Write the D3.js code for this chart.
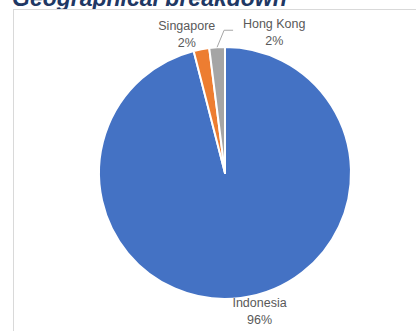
<!DOCTYPE html>
<html>
<head>
<meta charset="utf-8">
<script src="https://cdn.jsdelivr.net/npm/d3@7"></script>
<style>
  html, body { margin: 0; padding: 0; background: #fff; }
  svg { display: block; }
</style>
</head>
<body>
<svg id="chart" width="416" height="331"></svg>
<script>
// Share of holdings by country
const countries = ["Indonesia", "Singapore", "Hong Kong"];
const shares = [96, 2, 2];
const colors = ["#4472C4", "#ED7D31", "#A5A5A5"];

const W = 416, H = 331;
const svg = d3.select("#chart");
const font = "Liberation Sans, Arial, sans-serif";

// Title sits above the chart frame; the frame covers its descenders
svg.append("text")
  .attr("x", 12).attr("y", 6)
  .attr("font-family", font)
  .attr("font-size", 23).attr("font-weight", "bold").attr("font-style", "italic")
  .attr("fill", "#1F3864")
  .text("Geographical breakdown");

svg.append("rect")
  .attr("x", 13.5).attr("y", 9.5)
  .attr("width", W).attr("height", H)
  .attr("fill", "#fff").attr("stroke", "#D9D9D9").attr("stroke-width", 1);

const cx = 225, cy = 173, r = 126;
const g = svg.append("g").attr("transform", `translate(${cx},${cy})`);

const pie = d3.pie().sort(null).value(d => d.v);
const data = countries.map((c, i) => ({ c, v: shares[i], col: colors[i] }));
const arcs = pie(data);
const arc = d3.arc().innerRadius(0).outerRadius(r);

g.selectAll("path.slice")
  .data(arcs).join("path")
  .attr("class", "slice")
  .attr("d", arc)
  .attr("fill", d => d.data.col)
  .attr("stroke", "#fff").attr("stroke-width", 2).attr("stroke-linejoin", "round");

// Data labels just outside each slice, nudged sideways to clear neighbours
const nudgeX = { "Indonesia": 17, "Singapore": -12, "Hong Kong": 58 };
const lab = g.selectAll("g.lab").data(arcs).join("g").attr("class", "lab")
  .attr("transform", d => {
    const a = (d.startAngle + d.endAngle) / 2;
    const x = Math.sin(a) * (r + 14) + nudgeX[d.data.c];
    const y = -Math.cos(a) * (r + 14) + 3;
    return `translate(${x},${y})`;
  });
lab.append("text")
  .attr("text-anchor", "middle")
  .attr("font-family", font).attr("font-size", 12.5).attr("fill", "#595959")
  .attr("y", -8)
  .text(d => d.data.c);
lab.append("text")
  .attr("text-anchor", "middle")
  .attr("font-family", font).attr("font-size", 12.5).attr("fill", "#595959")
  .attr("y", 9)
  .text(d => d.data.v + "%");

// Leader line for the Hong Kong label
const hk = arcs[2];
const ha = (hk.startAngle + hk.endAngle) / 2;
const p0 = [Math.sin(ha) * r, -Math.cos(ha) * r];
g.append("polyline")
  .attr("points", [[p0[0], p0[1]], [p0[0] + 7, p0[1] - 17], [p0[0] + 16, p0[1] - 17]].map(p => p.join(",")).join(" "))
  .attr("fill", "none").attr("stroke", "#A6A6A6").attr("stroke-width", 1);
</script>
</body>
</html>
